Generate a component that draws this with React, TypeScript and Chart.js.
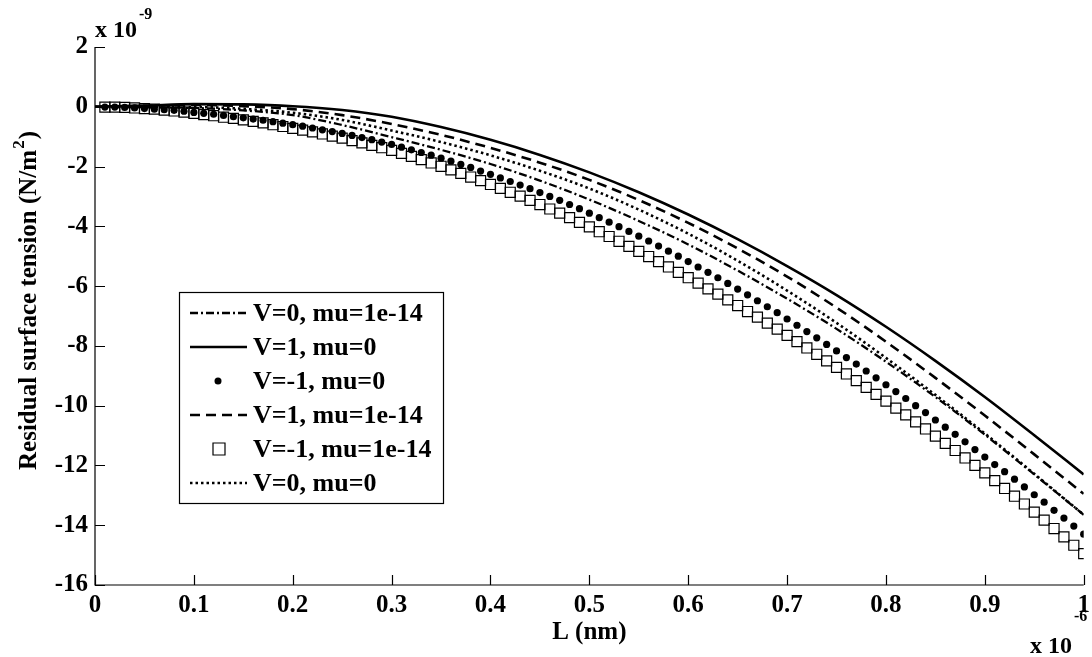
import React, { useEffect, useRef } from "react";
import { Chart, registerables } from "chart.js";
Chart.register(...registerables);

const FONT = "'Liberation Serif', 'Times New Roman', serif";

// x positions of line series (units of 1e-6)
const lineX = [0, 0.05, 0.1, 0.15, 0.2, 0.25, 0.3, 0.35, 0.4, 0.45, 0.5, 0.55, 0.6, 0.65, 0.7, 0.75, 0.8, 0.85, 0.9, 0.95, 1.0];
// y values (units of 1e-9)
const ySolidV1mu0 = [0, 0.04, 0.09, 0.08, 0.02, -0.11, -0.335, -0.68, -1.105, -1.61, -2.195, -2.86, -3.605, -4.43, -5.33, -6.3, -7.36, -8.5, -9.71, -10.99, -12.3];
const yDashedV1mu14 = [0, 0.03, 0.06, 0.02, -0.08, -0.28, -0.575, -0.94, -1.375, -1.87, -2.445, -3.12, -3.885, -4.74, -5.68, -6.72, -7.86, -9.07, -10.33, -11.63, -12.95];
const yDottedV0mu0 = [0, -0.01, -0.01, -0.07, -0.2, -0.44, -0.795, -1.18, -1.625, -2.14, -2.735, -3.44, -4.245, -5.15, -6.15, -7.23, -8.4, -9.64, -10.93, -12.28, -13.65];
const yDashDotV0mu14 = [0, -0.02, -0.04, -0.12, -0.28, -0.61, -1.015, -1.44, -1.915, -2.47, -3.105, -3.82, -4.605, -5.48, -6.42, -7.43, -8.53, -9.71, -10.97, -12.3, -13.65];

// marker series at x = 0.01 ... 1.00
const markerX = Array.from({ length: 100 }, (_, i) => (i + 1) / 100);
const yDotsVm1mu0 = [
  -0.01, -0.01, -0.02, -0.04, -0.06, -0.08, -0.10, -0.12, -0.15, -0.19,
  -0.22, -0.25, -0.29, -0.33, -0.37, -0.41, -0.45, -0.50, -0.55, -0.60,
  -0.65, -0.71, -0.77, -0.83, -0.89, -0.96, -1.03, -1.10, -1.18, -1.26,
  -1.35, -1.44, -1.53, -1.62, -1.72, -1.82, -1.93, -2.03, -2.15, -2.26,
  -2.38, -2.50, -2.62, -2.74, -2.87, -3.00, -3.13, -3.27, -3.41, -3.56,
  -3.71, -3.86, -4.01, -4.17, -4.33, -4.49, -4.66, -4.83, -5.00, -5.18,
  -5.36, -5.54, -5.72, -5.91, -6.10, -6.29, -6.49, -6.69, -6.89, -7.10,
  -7.31, -7.52, -7.73, -7.95, -8.17, -8.39, -8.61, -8.84, -9.07, -9.30,
  -9.53, -9.76, -10.00, -10.23, -10.48, -10.72, -10.96, -11.21, -11.47, -11.72,
  -11.97, -12.21, -12.46, -12.72, -12.98, -13.23, -13.50, -13.76, -14.03, -14.30,
];
const ySquaresVm1mu14 = [
  -0.01, -0.01, -0.02, -0.04, -0.06, -0.08, -0.11, -0.14, -0.18, -0.22,
  -0.26, -0.30, -0.35, -0.39, -0.44, -0.49, -0.54, -0.60, -0.66, -0.72,
  -0.78, -0.84, -0.91, -0.98, -1.05, -1.13, -1.21, -1.29, -1.37, -1.46,
  -1.56, -1.66, -1.77, -1.88, -1.99, -2.11, -2.23, -2.35, -2.47, -2.60,
  -2.73, -2.86, -2.99, -3.13, -3.27, -3.42, -3.56, -3.71, -3.87, -4.02,
  -4.18, -4.34, -4.50, -4.67, -4.84, -5.01, -5.18, -5.36, -5.54, -5.72,
  -5.90, -6.09, -6.27, -6.46, -6.65, -6.85, -7.04, -7.24, -7.44, -7.65,
  -7.86, -8.07, -8.28, -8.50, -8.72, -8.94, -9.16, -9.39, -9.62, -9.85,
  -10.08, -10.31, -10.54, -10.78, -11.02, -11.26, -11.50, -11.75, -12.00, -12.25,
  -12.51, -12.77, -13.03, -13.29, -13.56, -13.83, -14.11, -14.39, -14.67, -14.95,
];

const xTickLabels = ["0", "0.1", "0.2", "0.3", "0.4", "0.5", "0.6", "0.7", "0.8", "0.9", "1"];
const yTickLabels = ["-16", "-14", "-12", "-10", "-8", "-6", "-4", "-2", "0", "2"];

const legendOrder = [
  "V=0, mu=1e-14",
  "V=1, mu=0",
  "V=-1, mu=0",
  "V=1, mu=1e-14",
  "V=-1, mu=1e-14",
  "V=0, mu=0",
];

const toPts = (xs: number[], ys: number[]) => xs.map((x, i) => ({ x, y: ys[i] }));

const decoPlugin = {
  id: "deco",
  afterDraw(chart: any) {
    const ctx = chart.ctx as CanvasRenderingContext2D;
    const { left, right, top, bottom } = chart.chartArea;
    const xs = chart.scales.x;
    const ys = chart.scales.y;
    ctx.save();
    // axes + inward ticks
    ctx.strokeStyle = "#000";
    ctx.lineWidth = 1.2;
    ctx.beginPath();
    ctx.moveTo(left, top);
    ctx.lineTo(left, bottom);
    ctx.lineTo(right, bottom);
    ys.ticks.forEach((t: any) => {
      const y = Math.round(ys.getPixelForValue(t.value)) + 0.5;
      ctx.moveTo(left, y);
      ctx.lineTo(left + 10, y);
    });
    xs.ticks.forEach((t: any) => {
      const x = Math.round(xs.getPixelForValue(t.value)) + 0.5;
      ctx.moveTo(x, bottom);
      ctx.lineTo(x, bottom - 10);
    });
    ctx.stroke();

    ctx.fillStyle = "#000";
    // y axis title
    ctx.save();
    ctx.translate(36, 470);
    ctx.rotate(-Math.PI / 2);
    ctx.font = `bold 25px ${FONT}`;
    ctx.textAlign = "left";
    ctx.textBaseline = "alphabetic";
    const t1 = "Residual surface tension (N/m";
    ctx.fillText(t1, 0, 0);
    const w1 = ctx.measureText(t1).width;
    ctx.font = `bold 17px ${FONT}`;
    ctx.fillText("2", w1 + 1, -12);
    const w2 = ctx.measureText("2").width;
    ctx.font = `bold 25px ${FONT}`;
    ctx.fillText(")", w1 + w2 + 2, 0);
    ctx.restore();

    // exponent labels
    ctx.textAlign = "left";
    ctx.textBaseline = "alphabetic";
    ctx.font = `bold 24px ${FONT}`;
    ctx.fillText("x 10", 95, 37);
    const wx = ctx.measureText("x 10").width;
    ctx.font = `bold 16px ${FONT}`;
    ctx.fillText("-9", 95 + wx + 2, 19);

    ctx.font = `bold 24px ${FONT}`;
    ctx.fillText("x 10", 1030, 653);
    const wx2 = ctx.measureText("x 10").width;
    ctx.font = `bold 16px ${FONT}`;
    ctx.fillText("-6", 1030 + wx2 + 2, 621);

    // x axis title
    ctx.font = `bold 25px ${FONT}`;
    ctx.textAlign = "center";
    ctx.textBaseline = "middle";
    ctx.fillText("L (nm)", (left + right) / 2, 633);

    // legend
    const bx = 179.5, by = 292.5, bw = 264, bh = 211;
    ctx.fillStyle = "#fff";
    ctx.fillRect(bx, by, bw, bh);
    ctx.strokeStyle = "#000";
    ctx.lineWidth = 1.2;
    ctx.strokeRect(bx, by, bw, bh);
    const dsByLabel: Record<string, any> = {};
    chart.data.datasets.forEach((d: any) => (dsByLabel[d.label] = d));
    legendOrder.forEach((lab, i) => {
      const d = dsByLabel[lab];
      const cy = 313 + i * 34;
      if (d.showLine === false) {
        ctx.beginPath();
        if (d.pointStyle === "rect") {
          ctx.lineWidth = 1.2;
          ctx.strokeStyle = "#000";
          ctx.rect(213, cy - 6, 12, 12);
          ctx.stroke();
        } else {
          ctx.fillStyle = "#000";
          ctx.arc(218, cy, 3.5, 0, Math.PI * 2);
          ctx.fill();
        }
      } else {
        ctx.beginPath();
        ctx.setLineDash(d.borderDash || []);
        ctx.lineWidth = d.borderWidth;
        ctx.strokeStyle = "#000";
        ctx.moveTo(190, cy);
        ctx.lineTo(247, cy);
        ctx.stroke();
        ctx.setLineDash([]);
      }
      ctx.fillStyle = "#000";
      ctx.font = `bold 26px ${FONT}`;
      ctx.textAlign = "left";
      ctx.textBaseline = "middle";
      ctx.fillText(lab, 253, cy + 1);
    });
    ctx.restore();
  },
};

export default function App() {
  const ref = useRef<HTMLCanvasElement | null>(null);
  useEffect(() => {
    if (!ref.current) return;
    const lineCommon = {
      showLine: true,
      pointRadius: 0,
      borderColor: "#000",
      backgroundColor: "#000",
      fill: false,
      cubicInterpolationMode: "monotone" as const,
    };
    const chart = new Chart(ref.current, {
      type: "scatter",
      data: {
        datasets: [
          {
            ...lineCommon,
            label: "V=0, mu=1e-14",
            data: toPts(lineX, yDashDotV0mu14),
            borderWidth: 2.3,
            borderDash: [8, 3, 2, 3],
          },
          {
            ...lineCommon,
            label: "V=1, mu=0",
            data: toPts(lineX, ySolidV1mu0),
            borderWidth: 2.6,
          },
          {
            ...lineCommon,
            label: "V=1, mu=1e-14",
            data: toPts(lineX, yDashedV1mu14),
            borderWidth: 2.6,
            borderDash: [10, 6],
          },
          {
            ...lineCommon,
            label: "V=0, mu=0",
            data: toPts(lineX, yDottedV0mu0),
            borderWidth: 2.6,
            borderDash: [2.5, 3],
          },
          {
            label: "V=-1, mu=1e-14",
            data: toPts(markerX, ySquaresVm1mu14),
            showLine: false,
            pointStyle: "rect",
            pointRadius: 7.1,
            pointBorderWidth: 1.2,
            borderColor: "#000",
            pointBorderColor: "#000",
            pointBackgroundColor: "rgba(0,0,0,0)",
            backgroundColor: "rgba(0,0,0,0)",
          },
          {
            label: "V=-1, mu=0",
            data: toPts(markerX, yDotsVm1mu0),
            showLine: false,
            pointStyle: "circle",
            pointRadius: 3.6,
            pointBorderWidth: 0,
            borderColor: "#000",
            pointBackgroundColor: "#000",
            backgroundColor: "#000",
          },
        ],
      },
      options: {
        animation: false,
        responsive: true,
        maintainAspectRatio: false,
        layout: { padding: { top: 47, right: 2, left: 0, bottom: 0 } },
        plugins: { legend: { display: false }, tooltip: { enabled: false } },
        elements: { point: { hoverRadius: 0 } },
        scales: {
          x: {
            type: "linear",
            min: 0,
            max: 1,
            grid: { display: false, drawTicks: false },
            border: { display: false },
            ticks: {
              stepSize: 0.1,
              autoSkip: false,
              maxRotation: 0,
              padding: 6,
              color: "#000",
              font: { family: FONT, size: 25, weight: "bold" },
              callback: (_v: any, i: number) => xTickLabels[i],
            },
            afterFit: (s: any) => {
              s.height = 72;
              s.paddingLeft = 0;
              s.paddingRight = 0;
            },
          },
          y: {
            type: "linear",
            min: -16,
            max: 2,
            grid: { display: false, drawTicks: false },
            border: { display: false },
            ticks: {
              stepSize: 2,
              autoSkip: false,
              padding: 7,
              color: "#000",
              font: { family: FONT, size: 25, weight: "bold" },
              callback: (_v: any, i: number) => yTickLabels[i],
            },
            afterFit: (s: any) => {
              s.width = 95;
              s.paddingTop = 0;
              s.paddingBottom = 0;
            },
          },
        },
      },
      plugins: [decoPlugin],
    });
    return () => chart.destroy();
  }, []);
  return (
    <div style={{ position: "fixed", left: 0, top: 0, width: 1092, height: 657, background: "#fff" }}>
      <canvas ref={ref} />
    </div>
  );
}
